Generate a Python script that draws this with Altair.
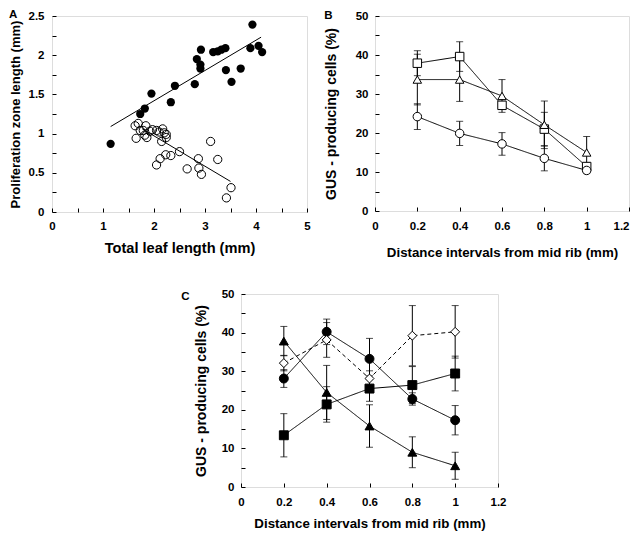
import altair as alt
import pandas as pd

# ---------------- Panel A data ----------------
a_filled_x = [1.15, 1.73, 1.82, 1.95, 2.33, 2.41, 2.80, 2.84, 2.91, 2.91, 2.92,
              3.16, 3.25, 3.32, 3.40, 3.41, 3.52, 3.70, 3.89, 3.93, 4.05, 4.12]
a_filled_y = [0.87, 1.25, 1.32, 1.51, 1.40, 1.61, 1.63, 1.95, 1.83, 1.88, 2.07,
              2.04, 2.05, 2.07, 2.09, 1.81, 1.66, 1.83, 2.09, 2.39, 2.12, 2.04]
a_open_x = [1.63, 1.69, 1.65, 1.73, 1.79, 1.84, 1.82, 1.86, 1.92, 1.97, 2.05, 2.10,
            2.17, 2.20, 2.24, 2.15, 2.24, 2.05, 2.12, 2.23, 2.33, 2.50, 2.65, 2.87,
            2.88, 2.93, 3.11, 3.25, 3.51, 3.42]
a_open_y = [1.10, 1.13, 0.94, 1.04, 1.04, 1.10, 0.98, 0.95, 1.03, 1.05, 1.04, 1.02,
            1.06, 1.01, 0.95, 0.90, 0.99, 0.60, 0.68, 0.73, 0.72, 0.77, 0.55, 0.68,
            0.56, 0.48, 0.90, 0.67, 0.31, 0.18]
a_fit_filled_x = [1.15, 4.10]
a_fit_filled_y = [1.09, 2.23]
a_fit_open_x = [1.77, 3.50]
a_fit_open_y = [1.06, 0.39]

# ---------------- Panel B / C data ----------------
dist = [0.2, 0.4, 0.6, 0.8, 1.0]

b_square = [37.9, 39.6, 27.1, 21.0, 11.4]
b_square_err = [3.2, 3.8, 1.0, 4.3, 1.0]
b_triangle = [33.7, 33.7, 29.5, 22.1, 15.0]
b_triangle_err = [6.5, 5.6, 4.2, 6.1, 4.1]
b_circle = [24.2, 19.9, 17.2, 13.5, 10.4]
b_circle_err = [3.3, 3.1, 2.9, 3.2, 0.8]

c_circle = [28.1, 40.2, 33.2, 22.8, 17.3]
c_circle_err = [2.3, 3.3, 5.3, 1.6, 3.8]
c_square = [13.4, 21.4, 25.5, 26.4, 29.4]
c_square_err = [5.6, 4.6, 3.3, 4.8, 4.5]
c_triangle = [37.8, 24.5, 15.8, 9.0, 5.5]
c_triangle_err = [3.8, 7.0, 5.5, 4.0, 3.5]
c_diamond = [32.1, 38.1, 28.1, 39.2, 40.2]
c_diamond_err = [2.0, 4.5, 2.0, 7.8, 6.8]

FONT = "Liberation Sans"
TICK = 4


def axis(values, fmt, label_expr, title, title_size, title_pad, label_pad, **kw):
    return alt.Axis(values=values, format=fmt, labelExpr=label_expr, title=title,
                    titleFontSize=title_size, titleFontWeight="bold", titlePadding=title_pad,
                    titleColor="black", labelFontSize=11.5, labelFontWeight="bold",
                    labelColor="black", labelPadding=label_pad, labelOverlap=False,
                    labelFlush=False,
                    tickSize=TICK, offset=-TICK, tickColor="black", tickWidth=1,
                    domain=False, grid=False, **kw)


# ---------------- Panel A ----------------
filled_df = pd.DataFrame({"x": a_filled_x, "y": a_filled_y})
open_df = pd.DataFrame({"x": a_open_x, "y": a_open_y})
fit_df = pd.concat([
    pd.DataFrame({"x": a_fit_filled_x, "y": a_fit_filled_y, "s": "filled"}),
    pd.DataFrame({"x": a_fit_open_x, "y": a_fit_open_y, "s": "open"}),
])

AX = alt.X("x:Q", scale=alt.Scale(domain=[0, 5], nice=False),
           axis=axis([i * 0.5 for i in range(11)], "~g",
                     "datum.value % 1 == 0 ? datum.label : ''",
                     "Total leaf length (mm)", 14.6, 9, 8))
AY = alt.Y("y:Q", scale=alt.Scale(domain=[0, 2.5], nice=False),
           axis=axis([i * 0.25 for i in range(11)], "~g",
                     "datum.value % 0.5 == 0 ? datum.label : ''",
                     "Proliferation zone length (mm)", 13, 6, 8))

a_lines = alt.Chart(fit_df).mark_line(color="black", strokeWidth=1).encode(
    x=AX, y=AY, detail="s:N")
a_open = alt.Chart(open_df).mark_point(shape="circle", filled=False, size=68,
                                       stroke="black", strokeWidth=1, opacity=1).encode(x=AX, y=AY)
a_filled = alt.Chart(filled_df).mark_point(shape="circle", filled=True, size=68,
                                           color="black", opacity=1).encode(x=AX, y=AY)

panel_a = alt.layer(a_lines, a_open, a_filled).properties(
    width=255, height=196,
    title=alt.TitleParams("A", anchor="start", frame="bounds", fontSize=11.5,
                          fontWeight="bold", font=FONT, color="black", offset=-10))


# ---------------- Panels B / C ----------------
def long_df(series):
    rows = []
    for name, vals, errs in series:
        for d, v, e in zip(dist, vals, errs):
            rows.append({"x": d, "y": v, "lo": v - e, "hi": v + e, "s": name})
    return pd.DataFrame(rows)


def gus_panel(df, names, shapes, fills, dashes, letter, ytitle_pad, xtitle_pad,
              title_kw, size, width, height, xlabel_kw):
    xaxis = axis([0, 0.2, 0.4, 0.6, 0.8, 1.0, 1.2], ".1~f", "datum.label",
                 "Distance intervals from mid rib (mm)", 13.3, xtitle_pad, 9, **xlabel_kw)
    yaxis = axis(list(range(0, 55, 5)), "d",
                 "datum.value % 10 == 0 ? datum.label : ''",
                 "GUS - producing cells (%)", 14, ytitle_pad, 7)
    xs = alt.Scale(domain=[0, 1.2], nice=False)
    ys = alt.Scale(domain=[0, 50], nice=False)
    X = alt.X("x:Q", scale=xs, axis=xaxis)
    Y = alt.Y("y:Q", scale=ys, axis=yaxis)
    YLO = alt.Y("lo:Q", scale=ys, axis=yaxis)
    YHI = alt.Y("hi:Q", scale=ys, axis=yaxis)
    base = alt.Chart(df)
    lines = base.mark_line(color="black", strokeWidth=1).encode(
        x=X, y=Y, detail="s:N",
        strokeDash=alt.StrokeDash("s:N", scale=alt.Scale(domain=names, range=dashes), legend=None))
    rules = base.mark_rule(color="black", strokeWidth=1).encode(x=X, y=YLO, y2="hi:Q")
    caps_lo = base.mark_tick(color="black", orient="horizontal", size=7, thickness=1).encode(x=X, y=YLO)
    caps_hi = base.mark_tick(color="black", orient="horizontal", size=7, thickness=1).encode(x=X, y=YHI)
    pts = base.mark_point(opacity=1, stroke="black", strokeWidth=1, filled=True, size=size).encode(
        x=X, y=Y,
        shape=alt.Shape("s:N", scale=alt.Scale(domain=names, range=shapes), legend=None),
        fill=alt.Fill("s:N", scale=alt.Scale(domain=names, range=fills), legend=None))
    return alt.layer(lines, rules, caps_lo, caps_hi, pts).properties(
        width=width, height=height,
        title=alt.TitleParams(letter, anchor="start", frame="bounds", fontSize=11.5,
                              fontWeight="bold", font=FONT, color="black", **title_kw))


b_names = ["b_square", "b_triangle", "b_circle"]
b_df = long_df([(b_names[0], b_square, b_square_err),
                (b_names[1], b_triangle, b_triangle_err),
                (b_names[2], b_circle, b_circle_err)])
panel_b = gus_panel(b_df, b_names,
                    ["square", "triangle-up", "circle"], ["white", "white", "white"],
                    [[1, 0], [1, 0], [1, 0]], "B", 17, 14, {"offset": -11}, 72,
                    254, 195,
                    {"labelAlign": {"condition": {"test": "datum.value >= 1.15", "value": "right"},
                                    "value": "center"}})

c_names = ["c_circle", "c_square", "c_triangle", "c_diamond"]
c_df = long_df([(c_names[0], c_circle, c_circle_err),
                (c_names[1], c_square, c_square_err),
                (c_names[2], c_triangle, c_triangle_err),
                (c_names[3], c_diamond, c_diamond_err)])
panel_c = gus_panel(c_df, c_names,
                    ["circle", "square", "triangle-up", "diamond"],
                    ["black", "black", "black", "white"],
                    [[1, 0], [1, 0], [1, 0], [4, 3]], "C", 13, 9, {"offset": -14, "dx": -13}, 80,
                    257, 193, {})

spacer = alt.Chart(pd.DataFrame({"x": [0]})).mark_point(opacity=0).encode(
    x=alt.X("x:Q", axis=None), y=alt.Y("x:Q", axis=None)
).properties(width=127, height=10, view=alt.ViewBackground(stroke="transparent"))

RES = dict(shape="independent", fill="independent", strokeDash="independent")
top = alt.hconcat(panel_a, panel_b, spacing=12).resolve_scale(**RES)
bottom = alt.hconcat(spacer, panel_c, spacing=0).resolve_scale(**RES)

chart = alt.vconcat(top, bottom, spacing=27).resolve_scale(**RES).properties(
    padding={"left": 0, "top": 0, "right": 0, "bottom": 0}
).configure_view(stroke="black", strokeWidth=1.5).configure(font=FONT)

chart.save("out.html", embed_options={"renderer": "svg", "actions": False})
